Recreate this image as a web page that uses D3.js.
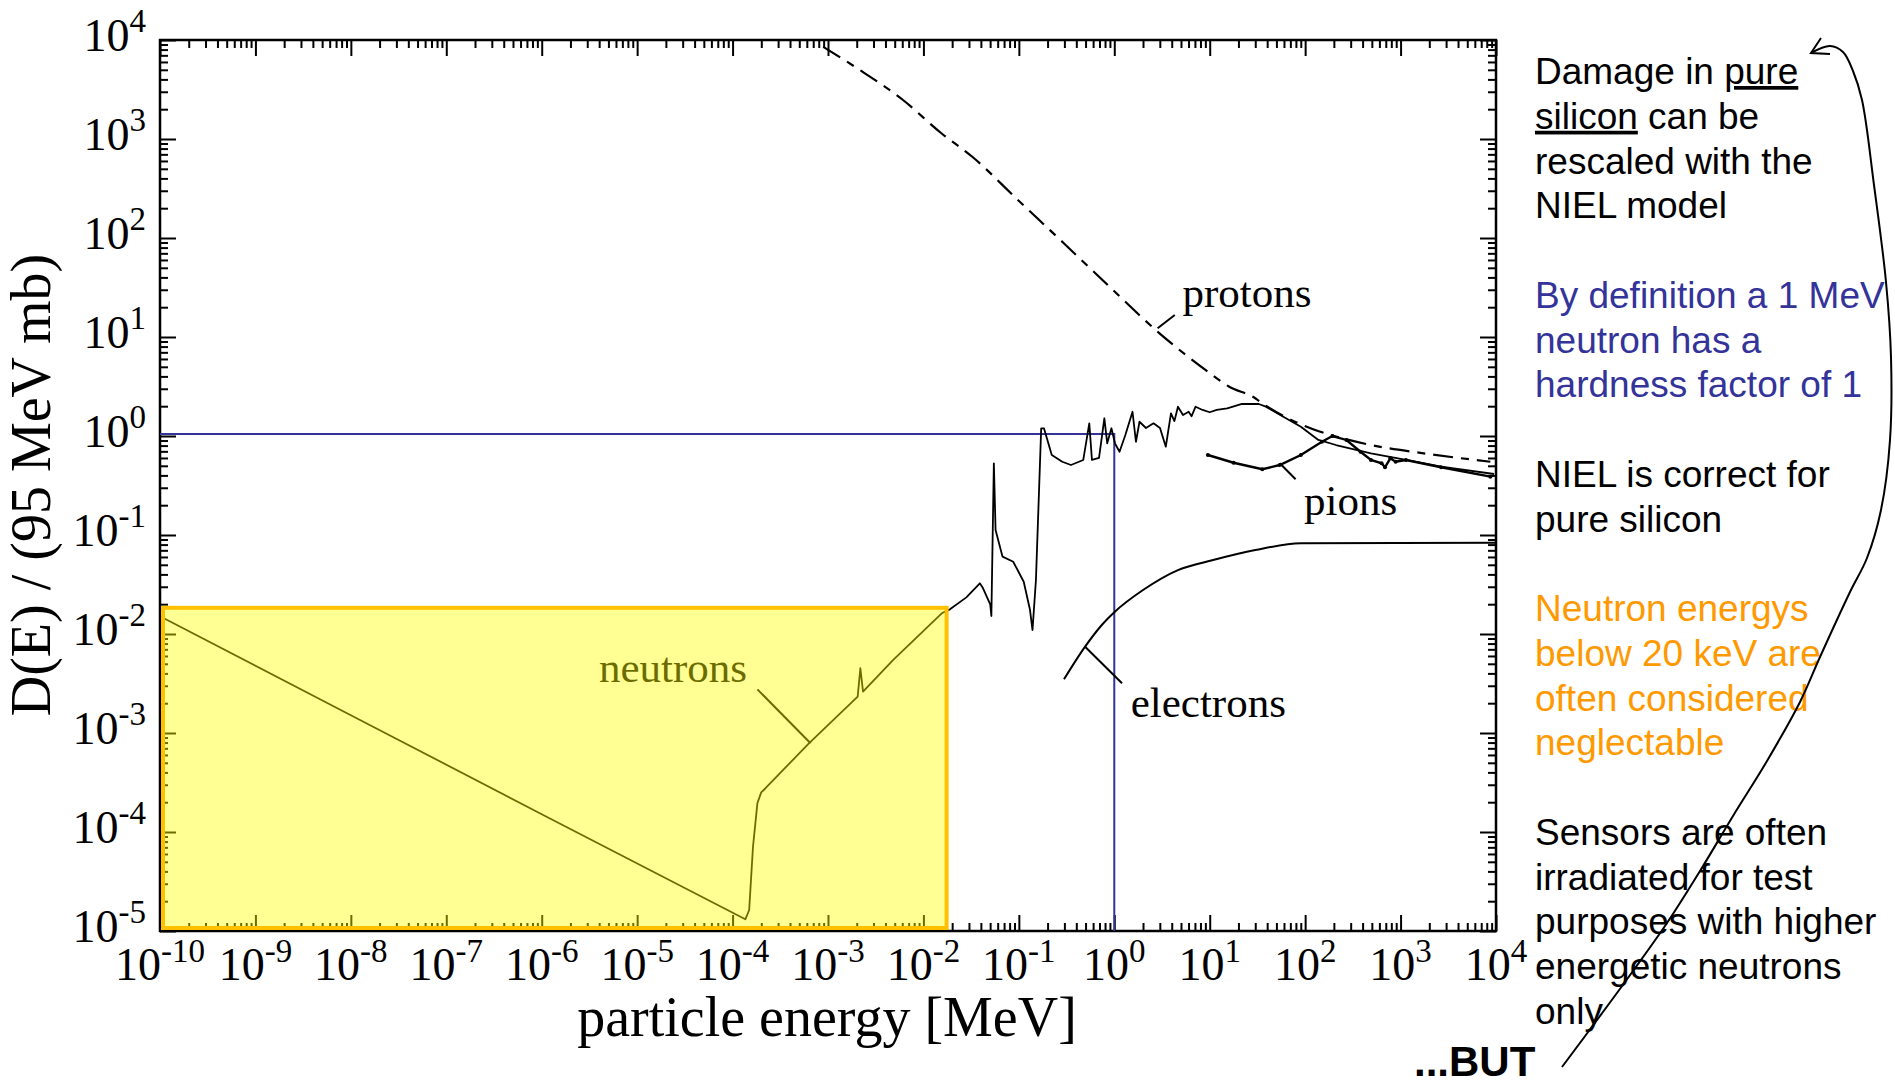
<!DOCTYPE html>
<html>
<head>
<meta charset="utf-8">
<script src="https://cdn.jsdelivr.net/npm/d3@7"></script>
<style>
  body { margin: 0; background: #fff; }
  svg { display: block; }
  .serif { font-family: "Liberation Serif", "Times New Roman", serif; }
  .sans { font-family: "Liberation Sans", Arial, sans-serif; }
</style>
</head>
<body>
<div id="chart"></div>
<script>
// values, as [log10(E / MeV), log10(D / 95 MeV mb)]
var neutronLog = [
  [-10, -1.82], [-8, -2.82], [-6, -3.82], [-3.866, -4.882], [-3.826, -4.788],
  [-3.786, -4.149], [-3.74, -3.71], [-3.70, -3.60], [-3.655, -3.558], [-3.2, -3.104],
  [-2.689, -2.633], [-2.661, -2.346], [-2.633, -2.583], [-2.319, -2.263], [-1.808, -1.791],
  [-1.722, -1.751], [-1.55, -1.63], [-1.409, -1.488], [-1.38, -1.53], [-1.30, -1.70],
  [-1.288, -1.818], [-1.262, -0.276], [-1.244, -0.949], [-1.171, -1.219], [-1.059, -1.27],
  [-0.949, -1.472], [-0.883, -1.758], [-0.857, -1.96], [-0.821, -1.455], [-0.766, 0.078],
  [-0.737, 0.078], [-0.655, -0.192], [-0.545, -0.26], [-0.454, -0.293], [-0.325, -0.242],
  [-0.262, 0.128], [-0.234, -0.242], [-0.16, -0.222], [-0.104, 0.179], [-0.074, -0.074],
  [-0.03, 0.078], [0.007, -0.074], [0.055, -0.159], [0.116, 0.01], [0.191, 0.245],
  [0.227, -0.058], [0.264, 0.144], [0.332, 0.081], [0.411, 0.128], [0.479, 0.081],
  [0.54, -0.108], [0.594, 0.229], [0.63, 0.15], [0.667, 0.296], [0.72, 0.212],
  [0.779, 0.245], [0.81, 0.2], [0.852, 0.296], [0.925, 0.263], [1.0, 0.24],
  [1.073, 0.263], [1.183, 0.28], [1.33, 0.323], [1.514, 0.323], [1.588, 0.296],
  [1.771, 0.195], [1.955, 0.094], [2.139, -0.04], [2.323, -0.091], [2.69, -0.175],
  [3.057, -0.242], [3.425, -0.31], [3.979, -0.384]
];
var protonLog = [
  [-3.05, 3.93], [-2.694, 3.714], [-2.214, 3.394], [-1.812, 3.058], [-1.491, 2.823],
  [-1.01, 2.384], [-0.529, 1.947], [-0.088, 1.543], [0.474, 1.037], [0.955, 0.667],
  [1.2, 0.5], [1.477, 0.381], [1.551, 0.33], [1.973, 0.111], [2.212, 0.027],
  [2.69, -0.091], [3.242, -0.175], [3.941, -0.26]
];
var pionLog = [
  [0.981, -0.192], [1.25, -0.27], [1.551, -0.336], [1.734, -0.293], [1.955, -0.192],
  [2.176, -0.058], [2.286, 0.0], [2.433, -0.04], [2.58, -0.159], [2.69, -0.242],
  [2.801, -0.276], [2.837, -0.316], [2.893, -0.225], [2.948, -0.259], [3.057, -0.242],
  [3.425, -0.316], [3.941, -0.411]
];
var electronLog = [
  [-0.527, -2.458], [-0.306, -2.128], [-0.14, -1.919], [0.006, -1.775], [0.301, -1.556],
  [0.667, -1.354], [1.036, -1.253], [1.478, -1.152], [1.955, -1.084], [4.0, -1.078]
];

var xExponents = d3.range(-10, 5);   // 10^-10 .. 10^4 MeV
var yExponents = d3.range(-5, 5);    // 10^-5 .. 10^4
var hardnessRef = [1, 1.05];         // 1 MeV neutron, D ~ 1
var neglectMax = [0.0175, 0.0184];   // yellow box corner (E, D)

// curve labels: [name, leader from, leader to, text anchor] in log10 units
var curveLabels = [
  ["protons", [0.454, 1.088], [0.634, 1.222], [0.715, 1.303]],
  ["neutrons", [-3.183, -3.104], [-3.74, -2.559], [-5.4, -2.482]],
  ["pions", [1.734, -0.276], [1.9, -0.437], [1.988, -0.798]],
  ["electrons", [-0.306, -2.128], [0.081, -2.498], [0.172, -2.835]]
];

var noteLines = [
  {t: [["Damage in "], ["pure", 1]], c: "#000"},
  {t: [["silicon", 1], [" can be"]], c: "#000"},
  {t: [["rescaled with the"]], c: "#000"},
  {t: [["NIEL model"]], c: "#000"},
  null,
  {t: [["By definition a 1 MeV"]], c: "#333399"},
  {t: [["neutron has a"]], c: "#333399"},
  {t: [["hardness factor of 1"]], c: "#333399"},
  null,
  {t: [["NIEL is correct for"]], c: "#000"},
  {t: [["pure silicon"]], c: "#000"},
  null,
  {t: [["Neutron energys"]], c: "#ff9900"},
  {t: [["below 20 keV are"]], c: "#ff9900"},
  {t: [["often considered"]], c: "#ff9900"},
  {t: [["neglectable"]], c: "#ff9900"},
  null,
  {t: [["Sensors are often"]], c: "#000"},
  {t: [["irradiated for test"]], c: "#000"},
  {t: [["purposes with higher"]], c: "#000"},
  {t: [["energetic neutrons"]], c: "#000"},
  {t: [["only"]], c: "#000"}
];

// hand-drawn arrow on the right (screen points)
var arrowPath = [
  [1562, 1067], [1600, 1016], [1633, 971], [1667, 923], [1700, 871], [1733, 816],
  [1767, 761], [1800, 702], [1820, 657], [1850, 592], [1867, 558], [1881, 510],
  [1890, 440], [1891, 357], [1886, 282], [1874, 185], [1862, 100], [1853, 71],
  [1843, 52], [1830, 46], [1811, 53]
];

var W = 1895, H = 1080;
var mLeft = 160, mRight = 1496, mTop = 40, mBottom = 931;

var svg = d3.select("#chart").append("svg")
    .attr("width", W)
    .attr("height", H);

var x = d3.scaleLog().domain([1e-10, 1e4]).range([mLeft, mRight]);
var y = d3.scaleLog().domain([1e-5, 1e4]).range([mBottom, mTop]);

var p10 = function(v) { return Math.pow(10, v); };
var px = function(d) { return x(p10(d[0])); };
var py = function(d) { return y(p10(d[1])); };

var majorX = xExponents.map(p10);
var majorY = yExponents.map(p10);
var minorX = [], minorY = [];
xExponents.slice(0, -1).forEach(function(e) {
  for (var k = 2; k < 10; k++) minorX.push(k * p10(e));
});
yExponents.slice(0, -1).forEach(function(e) {
  for (var k = 2; k < 10; k++) minorY.push(k * p10(e));
});

// ticks on all four sides, pointing inwards
function ticks(axis, vals, size, tr) {
  var g = svg.append("g")
      .attr("transform", tr)
      .call(axis.tickValues(vals).tickSize(size).tickFormat(""));
  g.select(".domain").remove();
  g.selectAll("text").remove();
  g.selectAll("line").attr("stroke", "#000").attr("stroke-width", 2);
}
ticks(d3.axisBottom(x), majorX, -16, "translate(0," + mBottom + ")");
ticks(d3.axisBottom(x), minorX, -8, "translate(0," + mBottom + ")");
ticks(d3.axisTop(x), majorX, -16, "translate(0," + mTop + ")");
ticks(d3.axisTop(x), minorX, -8, "translate(0," + mTop + ")");
ticks(d3.axisLeft(y), majorY, -16, "translate(" + mLeft + ",0)");
ticks(d3.axisLeft(y), minorY, -8, "translate(" + mLeft + ",0)");
ticks(d3.axisRight(y), majorY, -16, "translate(" + mRight + ",0)");
ticks(d3.axisRight(y), minorY, -8, "translate(" + mRight + ",0)");

svg.append("rect")
    .attr("x", mLeft).attr("y", mTop)
    .attr("width", mRight - mLeft).attr("height", mBottom - mTop)
    .attr("fill", "none").attr("stroke", "#000").attr("stroke-width", 2.5);

// tick labels 10^n
var xl = svg.append("g").attr("class", "serif");
xExponents.forEach(function(e) {
  var t = xl.append("text")
      .attr("x", x(p10(e))).attr("y", 980)
      .attr("text-anchor", "middle").attr("font-size", 46);
  t.append("tspan").text("10");
  t.append("tspan").attr("dy", -18).attr("font-size", 33).text(e);
});
var yl = svg.append("g").attr("class", "serif");
yExponents.forEach(function(e) {
  var t = yl.append("text")
      .attr("x", 146).attr("y", y(p10(e)) + 11)
      .attr("text-anchor", "end").attr("font-size", 46);
  t.append("tspan").text("10");
  t.append("tspan").attr("dy", -19).attr("font-size", 33).text(e);
});

svg.append("text").attr("class", "serif")
    .attr("x", 827).attr("y", 1036)
    .attr("text-anchor", "middle").attr("font-size", 56)
    .text("particle energy [MeV]");
svg.append("text").attr("class", "serif")
    .attr("transform", "translate(50,485) rotate(-90)")
    .attr("text-anchor", "middle").attr("font-size", 56)
    .text("D(E) / (95 MeV mb)");

// hardness reference lines
svg.append("path")
    .attr("d", d3.line()([[mLeft, y(hardnessRef[1])], [x(hardnessRef[0]), y(hardnessRef[1])], [x(hardnessRef[0]), mBottom]]))
    .attr("fill", "none").attr("stroke", "#333399").attr("stroke-width", 2);

var line = d3.line().x(px).y(py);
var smooth = d3.line().x(px).y(py).curve(d3.curveMonotoneX);

svg.append("path").attr("d", smooth(protonLog))
    .attr("fill", "none").attr("stroke", "#000").attr("stroke-width", 2.2)
    .attr("stroke-dasharray", "20,8,8,8");
svg.append("path").attr("d", line(neutronLog))
    .attr("fill", "none").attr("stroke", "#000").attr("stroke-width", 1.8)
    .attr("stroke-linejoin", "round");
svg.append("path").attr("d", line(pionLog))
    .attr("fill", "none").attr("stroke", "#000").attr("stroke-width", 2.4);
svg.selectAll(".pdot").data(pionLog).enter().append("circle")
    .attr("cx", px).attr("cy", py).attr("r", 2).attr("fill", "#000");
svg.append("path").attr("d", smooth(electronLog))
    .attr("fill", "none").attr("stroke", "#000").attr("stroke-width", 2);

// curve labels with leader lines
curveLabels.forEach(function(c) {
  svg.append("line")
      .attr("x1", px(c[1])).attr("y1", py(c[1]))
      .attr("x2", px(c[2])).attr("y2", py(c[2]))
      .attr("stroke", "#000").attr("stroke-width", 2);
  svg.append("text").attr("class", "serif")
      .attr("x", px(c[3])).attr("y", py(c[3]))
      .attr("font-size", 43).text(c[0]);
});

// neglected region (semi-transparent yellow over the plot)
svg.append("rect")
    .attr("x", x(1e-10) + 3).attr("y", y(neglectMax[1]))
    .attr("width", x(neglectMax[0]) - x(1e-10) - 3)
    .attr("height", y(1e-5) - 3 - y(neglectMax[1]))
    .attr("fill", "#ffff00").attr("fill-opacity", 0.42)
    .attr("stroke", "#ffc000").attr("stroke-width", 4);

// notes on the right
var notes = svg.append("g").attr("class", "sans").attr("font-size", 37);
noteLines.forEach(function(l, i) {
  if (!l) return;
  var t = notes.append("text").attr("x", 1535).attr("y", 84 + i * 44.75).attr("fill", l.c);
  l.t.forEach(function(s) {
    t.append("tspan").attr("text-decoration", s[1] ? "underline" : null).text(s[0]);
  });
});
svg.append("text").attr("class", "sans")
    .attr("x", 1414).attr("y", 1076)
    .attr("font-size", 42).attr("font-weight", "bold")
    .text("...BUT");

svg.append("path")
    .attr("d", d3.line().curve(d3.curveCatmullRom)(arrowPath))
    .attr("fill", "none").attr("stroke", "#000").attr("stroke-width", 2);
var tip = arrowPath[arrowPath.length - 1];
svg.append("path")
    .attr("d", d3.line()([[tip[0] + 10, tip[1] - 15], tip, [tip[0] + 19, tip[1] + 1]]))
    .attr("fill", "none").attr("stroke", "#000").attr("stroke-width", 2);
</script>
</body>
</html>
